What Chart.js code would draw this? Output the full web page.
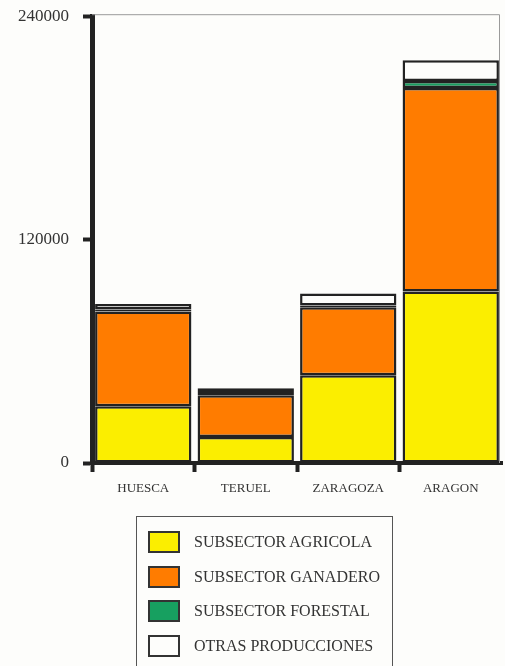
<!DOCTYPE html>
<html>
<head>
<meta charset="utf-8">
<script src="https://cdn.jsdelivr.net/npm/chart.js@4"></script>
<style>
  html, body { margin:0; padding:0; background:#fdfdfb; }
  #wrap { position:relative; width:505px; height:666px; overflow:hidden; }
  #c { position:absolute; left:0; top:-8px; }
  #legend { position:absolute; left:136px; top:516px; width:257px; height:160px;
    border:1px solid #555; box-sizing:border-box; font-family:"Liberation Serif", serif;
    font-size:16px; color:#333; }
  .item { position:absolute; left:11px; height:24px; display:flex; align-items:center; }
  .sw { width:32px; height:22px; border:2px solid #333; box-sizing:border-box; margin-right:14px; }
</style>
</head>
<body>
<div id="wrap">
  <canvas id="c" width="505" height="674"></canvas>
  <div id="legend"></div>
</div>
<script>
const categories = ["HUESCA", "TERUEL", "ZARAGOZA", "ARAGON"];
const agricola   = [30500, 13900, 47100, 92100];
const ganadero   = [50900, 22500, 36500, 109300];
const forestal   = [1000, 2300, 1000, 3800];
const otras      = [3000, 1500, 6500, 11200];
const yTicks     = [0, 120000, 240000];
const seriesNames = ["SUBSECTOR AGRICOLA", "SUBSECTOR GANADERO", "SUBSECTOR FORESTAL", "OTRAS PRODUCCIONES"];
const seriesColors = ["#fbee00", "#ff7c00", "#17a060", "#fdfdfb"];

const frame = {
  id: 'frame',
  beforeDatasetsDraw(chart) {
    const {ctx, chartArea:a} = chart;
    ctx.save();
    ctx.strokeStyle = '#9a9a9a';
    ctx.lineWidth = 1;
    ctx.beginPath();
    ctx.moveTo(a.left, a.top - 1.5);
    ctx.lineTo(a.right - 2.5, a.top - 1.5);
    ctx.lineTo(a.right - 2.5, a.bottom);
    ctx.stroke();
    ctx.restore();
  }
};

// hide the closing grid tick at the right end of the x axis
const hideLastTick = {
  id: 'hideLastTick',
  afterUpdate(chart) {
    const xs = chart.scales.x;
    const orig = xs._computeGridLineItems;
    if (orig && !xs.__patched) {
      xs.__patched = true;
      xs._computeGridLineItems = function (area) {
        const items = orig.call(this, area);
        return items.filter(it => it.tx1 < this.right - 1);
      };
    }
  }
};

const seriesData = [agricola, ganadero, forestal, otras];
const chart = new Chart(document.getElementById('c'), {
  type: 'bar',
  data: {
    labels: categories,
    datasets: seriesNames.map((n, i) => ({
      label: n,
      data: seriesData[i],
      backgroundColor: seriesColors[i],
      borderColor: '#222',
      borderWidth: 2.5,
      borderSkipped: false,
      barPercentage: 0.94,
      categoryPercentage: 1.0
    }))
  },
  options: {
    responsive: false,
    animation: false,
    layout: { padding: { top: 0, right: 3, left: 0, bottom: 0 } },
    plugins: { legend: { display: false }, tooltip: { enabled: false } },
    scales: {
      x: {
        stacked: true,
        afterFit(s) { s.height = 203; },
        border: { color: '#222', width: 4 },
        grid: { offset: true, drawOnChartArea: false, drawTicks: true, tickLength: 9, tickWidth: 4, tickColor: '#222' },
        ticks: { color: '#333', padding: 9, font: { family: 'Liberation Serif', size: 13 } }
      },
      y: {
        stacked: true,
        min: 0, max: 240000,
        afterFit(s) { s.width = 92; },
        afterBuildTicks(s) { s.ticks = yTicks.map(v => ({ value: v })); },
        border: { color: '#222', width: 5 },
        grid: { drawOnChartArea: false, drawTicks: true, tickLength: 9, tickWidth: 4, tickColor: '#222' },
        ticks: { color: '#333', padding: 14, font: { family: 'Liberation Serif', size: 17 },
                 callback: (v) => String(v) }
      }
    }
  },
  plugins: [frame, hideLastTick]
});
chart.update();

const leg = document.getElementById('legend');
chart.data.datasets.forEach((d, i) => {
  const it = document.createElement('div');
  it.className = 'item';
  it.style.top = (13 + i * 34.5) + 'px';
  const sw = document.createElement('div');
  sw.className = 'sw';
  sw.style.background = d.backgroundColor;
  it.appendChild(sw);
  const t = document.createElement('span');
  t.textContent = d.label;
  it.appendChild(t);
  leg.appendChild(it);
});
</script>
</body>
</html>
